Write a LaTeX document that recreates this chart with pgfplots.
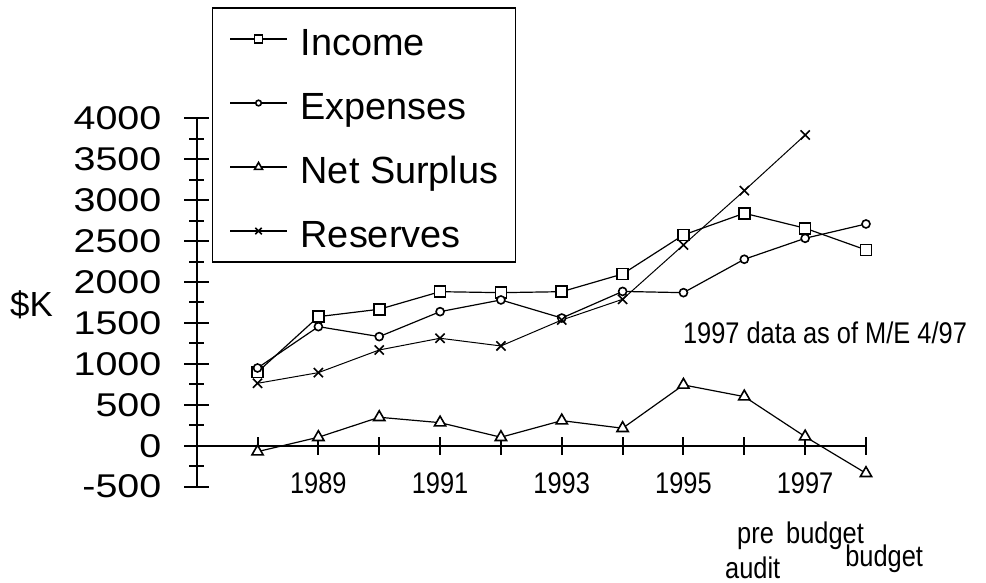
\documentclass[border=0pt]{standalone}
\usepackage{fontspec}
\setmainfont{Liberation Sans}
\newfontfamily\widefont[FakeStretch=1.2]{Liberation Sans}
\newfontfamily\narrowfont[FakeStretch=0.85]{Liberation Sans}
\usepackage{pgfplots}
\pgfplotsset{compat=1.18}
\begin{document}
\begin{tikzpicture}
\begin{axis}[
  scale only axis, width=669.3bp, height=368.4bp,
  xmin=1987, xmax=1998, ymin=-500, ymax=4000,
  axis y line=left, axis x line=middle,
  axis line style={line width=2bp,-},
  clip=false,
  xtick={1988,...,1998},
  xticklabels={,1989,,1991,,1993,,1995,,1997,},
  ytick={-500,0,...,4000},
  minor ytick={-250,250,...,3750},
  tick align=center,
  major tick length=25bp, minor tick length=15bp,
  tick style={line width=2bp, black},
  xtick style={/pgfplots/major tick length=18bp},
  /pgf/number format/assume math mode=true,
  /pgf/number format/1000 sep={},
  yticklabel style={font=\widefont\fontsize{33}{36}\selectfont, anchor=east, inner sep=0bp, xshift=-22.7bp},
  xticklabel style={font=\narrowfont\fontsize{30}{32}\selectfont, yshift=-11bp},
  ylabel={\$K},
  ylabel style={rotate=-90, at={(rel axis cs:-0.279,0.4615)}, anchor=base west, font=\fontsize{35}{38}\selectfont, inner sep=0bp},
  legend style={at={(rel axis cs:0.0224,1.3013)}, anchor=north west, draw=black, line width=1.5bp,
    font=\fontsize{38}{40}\selectfont, inner xsep=17bp, inner ysep=14bp, row sep=30bp, column sep=13bp,
    nodes={inner sep=0bp, text height=33bp, text depth=1bp}, cells={anchor=west}},
  legend image code/.code={\draw[mark repeat=2, mark phase=2, line width=1.2bp, #1] plot coordinates {(0bp,0bp) (28.5bp,0bp) (57bp,0bp)};},
  legend image post style={/tikz/every mark/.append style={scale=0.7}},
]
\addplot[black, line width=1.2bp, mark=square*, mark size=5.5bp, mark options={fill=white, solid, line width=1.6bp}] coordinates {
 (1988,900) (1989,1577) (1990,1667) (1991,1882) (1992,1870) (1993,1882) (1994,2098) (1995,2575) (1996,2840) (1997,2657) (1998,2392)};
\addlegendentry{Income}
\addplot[black, line width=1.2bp, mark=*, mark size=4bp, mark options={fill=white, solid, line width=1.6bp}] coordinates {
 (1988,950) (1989,1455) (1990,1333) (1991,1638) (1992,1781) (1993,1560) (1994,1885) (1995,1870) (1996,2278) (1997,2534) (1998,2709)};
\addlegendentry{Expenses}
\addplot[black, line width=1.2bp, mark=triangle*, mark size=6.5bp, mark options={fill=white, solid, line width=1.6bp}] coordinates {
 (1988,-72) (1989,104) (1990,348) (1991,282) (1992,104) (1993,307) (1994,214) (1995,743) (1996,600) (1997,111) (1998,-336)};
\addlegendentry{Net Surplus}
\addplot[black, line width=1bp, mark=x, mark size=6.5bp, mark options={solid, line width=1.6bp}] coordinates {
 (1988,763) (1989,893) (1990,1170) (1991,1313) (1992,1219) (1993,1536) (1994,1789) (1995,2453) (1996,3116) (1997,3796)};
\addlegendentry{Reserves}
\node[anchor=base west, inner sep=0bp, font=\narrowfont\fontsize{30}{32}\selectfont] at (axis cs:1994.99,1252) {1997 data as of M/E 4/97};
\node[anchor=base west, inner sep=0bp, font=\narrowfont\fontsize{30}{32}\selectfont] at (axis cs:1995.88,-1191) {pre};
\node[anchor=base west, inner sep=0bp, font=\narrowfont\fontsize{30}{32}\selectfont] at (axis cs:1996.686,-1191) {budget};
\node[anchor=base west, inner sep=0bp, font=\narrowfont\fontsize{30}{32}\selectfont] at (axis cs:1997.656,-1477) {budget};
\node[anchor=base west, inner sep=0bp, font=\narrowfont\fontsize{30}{32}\selectfont] at (axis cs:1995.682,-1618) {audit};
\coordinate (bl) at (rel axis cs:-0.2939,-0.2614);
\coordinate (tr) at (rel axis cs:1.1793,1.3211);
\end{axis}
\pgfresetboundingbox
\path[use as bounding box] (bl) rectangle (tr);
\end{tikzpicture}
\end{document}
